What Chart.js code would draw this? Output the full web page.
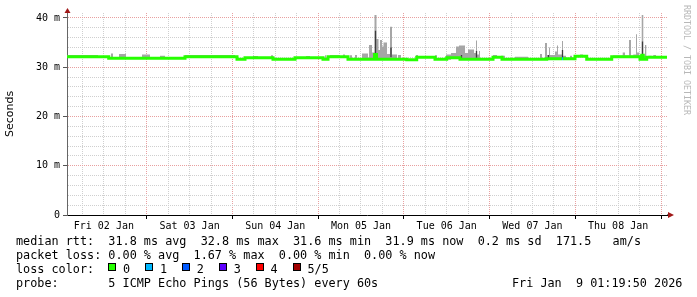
<!DOCTYPE html>
<html lang="en">
<head>
    <meta charset="UTF-8">
    <title>SmokePing latency</title>
    <style>
        body { margin: 0; background: #fff; }
        #wrap { position: relative; width: 697px; height: 297px; }
        #legend { position: absolute; left: 16px; top: 234px; font: 11.8px 'DejaVu Sans Mono', monospace; line-height: 14px; color: #000; white-space: pre; }
        #legend div { height: 14px; }
        .box { position: absolute; top: 263px; width: 8px; height: 8px; box-sizing: border-box; border: 1px solid #000; }
        .key { position: absolute; top: 262px; font: 11.8px 'DejaVu Sans Mono', monospace; line-height: 14px; }
        #probeTime { position: absolute; left: 512px; top: 276px; font: 11.8px 'DejaVu Sans Mono', monospace; line-height: 14px; white-space: pre; }
        #credit { position: absolute; left: 682px; top: 5px; writing-mode: vertical-rl; font: 8.3px 'DejaVu Sans Mono', monospace; line-height: 10px; color: #b8b8b8; white-space: pre; }
    </style>
</head>
<body>
<div id="wrap">
    <canvas id="myChart" width="697" height="297"></canvas>
    <div id="legend"></div>
    <div id="probeTime"></div>
    <div id="credit">RRDTOOL / TOBI OETIKER</div>
</div>

<script src="https://cdn.jsdelivr.net/npm/chart.js"></script>
<script>
// hours since Fri 02 Jan 00:00
const dayLabels = ['Fri 02 Jan', 'Sat 03 Jan', 'Sun 04 Jan', 'Mon 05 Jan', 'Tue 06 Jan', 'Wed 07 Jan', 'Thu 08 Jan'];

// median rtt (ms), step values starting at each hour
const medianHours = [1.68, 13.36, 34.72, 49.28, 51.52, 59.36, 65.52, 73.36, 74.76, 80.36, 87.78, 88.34, 96.8, 99.6, 104.72, 108.0, 111.72, 120.96, 123.48, 136.0, 140.28, 140.56, 143.92, 147.2, 154.2, 162.12, 162.6, 163.04, 164.0, 169.68];
const medianMs = [32.1, 31.8, 32.1, 31.6, 31.9, 31.6, 31.9, 31.6, 32.1, 31.6, 32.6, 31.6, 31.5, 32.0, 31.6, 31.9, 31.6, 32.0, 31.6, 31.7, 31.7, 31.7, 32.2, 31.6, 32.1, 31.6, 32.4, 31.6, 32.0, 32.0];

// lost pings on the median line
const lossStart = [140.28];
const lossEnd = [140.56];
const lossCount = [1];
const lossColors = ['#26ff00', '#00b8ff', '#0059ff', '#5e00ff', '#ff0000', '#a10000'];
const lossKeys = ['0', '1', '2', '3', '4', '5/5'];

// smoke (spread of the pings), low / high in ms, step values
const smokeHours = [1.68, 10.36, 14.0, 14.56, 16.24, 18.2, 22.68, 24.92, 27.72, 29.12, 34.72, 48.72, 53.76, 55.16, 58.8, 59.36, 68.6, 69.72, 73.92, 74.2, 75.32, 78.12, 78.96, 79.52, 80.92, 81.48, 82.32, 82.88, 84.28, 85.96, 86.24, 87.08, 87.78, 88.34, 88.9, 89.32, 89.88, 90.3, 91.28, 92.12, 92.68, 94.08, 94.36, 95.2, 99.4, 99.96, 104.72, 105.28, 107.8, 109.2, 110.6, 111.44, 113.12, 113.96, 115.64, 116.2, 116.48, 117.04, 117.32, 120.96, 122.08, 123.2, 124.32, 127.12, 130.76, 134.12, 134.68, 135.52, 136.08, 136.64, 136.92, 138.32, 138.88, 139.16, 140.28, 140.56, 141.4, 142.52, 143.08, 145.32, 146.16, 154.56, 157.28, 157.92, 159.04, 159.6, 160.24, 161.0, 161.28, 161.92, 162.6, 163.04, 163.52, 163.88, 164.44, 165.4, 165.84, 166.6];
const smokeLow = [32.0, 32.0, 31.7, 31.7, 31.7, 31.7, 31.7, 31.7, 31.7, 31.7, 32.0, 32.0, 31.8, 31.8, 31.8, 31.5, 31.8, 31.8, 31.5, 31.5, 32.0, 32.0, 32.0, 32.0, 31.5, 31.5, 31.5, 31.5, 31.5, 31.5, 31.5, 31.5, 31.5, 31.5, 31.5, 31.5, 31.5, 31.5, 31.5, 31.5, 31.5, 31.5, 31.5, 31.5, 31.8, 31.9, 31.5, 31.5, 31.5, 31.8, 31.8, 31.7, 31.5, 31.5, 31.5, 31.5, 31.5, 31.5, 31.5, 31.9, 31.9, 31.5, 31.5, 31.5, 31.5, 31.5, 31.5, 31.5, 31.6, 31.6, 31.6, 31.6, 31.6, 31.6, 31.6, 31.6, 31.6, 31.6, 31.6, 32.1, 32.1, 32.0, 32.0, 32.0, 32.0, 32.0, 32.0, 32.0, 32.0, 32.0, 32.1, 31.5, 31.5, 31.5, 31.9, 31.9, 31.9, 31.9];
const smokeHigh = [32.5, 32.0, 32.8, 31.7, 32.7, 31.7, 32.6, 31.7, 32.3, 31.7, 32.45, 32.0, 32.25, 31.8, 32.4, 31.5, 32.25, 31.8, 32.4, 31.5, 32.45, 32.0, 32.6, 32.0, 32.4, 31.5, 32.5, 31.5, 32.8, 31.5, 34.5, 33.0, 40.6, 35.7, 33.5, 35.5, 34.2, 35.0, 32.7, 38.2, 32.6, 31.5, 32.5, 31.5, 32.5, 31.9, 32.4, 31.5, 32.6, 32.9, 34.2, 34.4, 32.9, 33.6, 32.9, 35.4, 32.6, 33.3, 31.5, 32.5, 31.9, 32.3, 31.5, 32.1, 31.5, 32.7, 31.5, 34.9, 32.5, 34.0, 32.5, 33.2, 34.4, 32.6, 35.3, 32.3, 31.6, 32.3, 31.6, 32.6, 32.1, 32.35, 33.0, 32.35, 35.5, 32.35, 32.6, 36.7, 33.0, 32.3, 40.6, 32.3, 34.5, 31.5, 32.3, 31.9, 32.5, 31.9];

// dense part of the smoke (darker columns)
const darkHours = [88.06, 92.4, 112.14, 116.34, 136.5, 140.42, 162.82];
const darkLow = [32.5, 32.0, 31.6, 31.9, 31.5, 31.5, 32.1];
const darkHigh = [37.4, 34.0, 32.5, 33.3, 32.5, 33.5, 35.2];

// legend statistics
const rttNames = ['avg', 'max', 'min', 'now', 'sd'];
const rttValues = [31.8, 32.8, 31.6, 31.9, 0.2];
const amPerSecond = 171.5;
const lossNames = ['avg', 'max', 'min', 'now'];
const lossValues = [0.00, 1.67, 0.00, 0.00];
const probeText = '5 ICMP Echo Pings (56 Bytes) every 60s';
const graphTime = 'Fri Jan  9 01:19:50 2026';

const startHour = 1.68;
const endHour = 169.68;
const yMax = 41;

// legend text
const legend = document.getElementById('legend');
const lines = [
    'median rtt:  ' + rttValues.map((v, i) => v.toFixed(1) + ' ms ' + rttNames[i]).join('  ') + '  ' + amPerSecond.toFixed(1) + '   am/s',
    'packet loss: ' + lossValues.map((v, i) => v.toFixed(2) + ' % ' + lossNames[i]).join('  '),
    'loss color:',
    'probe:       ' + probeText
];
lines.forEach(t => {
    const d = document.createElement('div');
    d.textContent = t;
    legend.appendChild(d);
});
document.getElementById('probeTime').textContent = graphTime;
const wrap = document.getElementById('wrap');
lossKeys.forEach((k, i) => {
    const b = document.createElement('span');
    b.className = 'box';
    b.style.left = (108 + i * 36.9) + 'px';
    b.style.background = lossColors[i];
    wrap.appendChild(b);
    const t = document.createElement('span');
    t.className = 'key';
    t.style.left = (123 + i * 36.9) + 'px';
    t.textContent = k;
    wrap.appendChild(t);
});

function lossColorAt(h) {
    for (let i = 0; i < lossStart.length; i++) {
        if (h >= lossStart[i] && h < lossEnd[i]) return lossColors[lossCount[i]];
    }
    return lossColors[0];
}

const arrows = {
    id: 'arrows',
    afterDraw(chart) {
        const c = chart.ctx, a = chart.chartArea;
        c.save();
        c.fillStyle = '#000';
        c.fillRect(a.right, a.bottom - 0.5, 2, 1);
        c.fillStyle = '#a01818';
        c.beginPath();
        c.moveTo(a.left - 2.5, a.top);
        c.lineTo(a.left + 3.5, a.top);
        c.lineTo(a.left + 0.5, a.top - 5);
        c.closePath();
        c.fill();
        c.beginPath();
        c.moveTo(a.right + 1, a.bottom - 3);
        c.lineTo(a.right + 1, a.bottom + 3);
        c.lineTo(a.right + 7, a.bottom);
        c.closePath();
        c.fill();
        c.restore();
    }
};

Chart.defaults.font.family = "'DejaVu Sans Mono', monospace";
Chart.defaults.font.size = 10;
Chart.defaults.color = '#000';

const ctx = document.getElementById('myChart');
new Chart(ctx, {
    type: 'line',
    data: {
        datasets: [
            {
                label: 'median',
                data: medianHours.map((h, i) => ({ x: h, y: medianMs[i] })),
                stepped: true,
                borderColor: lossColors[0],
                borderWidth: 3,
                borderCapStyle: 'butt',
                pointRadius: 0,
                fill: false,
                order: 0,
                segment: { borderColor: c => lossColorAt(c.p0.parsed.x) }
            },
            {
                label: 'dense',
                data: darkHours.flatMap((h, i) => [{ x: h, y: darkLow[i] }, { x: h, y: darkHigh[i] }, { x: h, y: null }]),
                borderColor: '#3c3c3c',
                borderWidth: 1.3,
                pointRadius: 0,
                spanGaps: false,
                fill: false,
                order: 1
            },
            {
                label: 'smoke',
                data: smokeHours.map((h, i) => ({ x: h, y: smokeHigh[i] })),
                stepped: true,
                borderColor: 'rgba(0,0,0,0)',
                borderWidth: 0,
                backgroundColor: '#a6a6a6',
                pointRadius: 0,
                fill: '+1',
                order: 2
            },
            {
                label: 'smoke low',
                data: smokeHours.map((h, i) => ({ x: h, y: smokeLow[i] })),
                stepped: true,
                borderColor: 'rgba(0,0,0,0)',
                borderWidth: 0,
                pointRadius: 0,
                fill: false,
                order: 3
            }
        ]
    },
    options: {
        responsive: false,
        animation: false,
        events: [],
        devicePixelRatio: 1,
        layout: { padding: { left: 0, right: 30, top: 13, bottom: 0 } },
        plugins: { legend: { display: false }, tooltip: { enabled: false } },
        scales: {
            x: {
                type: 'linear',
                min: startHour,
                max: endHour,
                offset: false,
                afterFit: s => { s.height = 82; },
                afterBuildTicks: s => {
                    const t = [];
                    for (let h = 6; h < endHour; h += 6) t.push({ value: h });
                    s.ticks = t;
                },
                ticks: {
                    autoSkip: false,
                    maxRotation: 0,
                    minRotation: 0,
                    padding: 1,
                    font: { size: 10 },
                    callback: v => (v % 24 === 12 ? dayLabels[Math.floor(v / 24)] : '')
                },
                grid: {
                    offset: false,
                    color: c => (c.tick && c.tick.value % 24 === 0 ? '#e8a0a0' : '#cfcfcf'),
                    tickColor: c => (c.tick && c.tick.value % 24 === 0 ? '#000' : 'rgba(0,0,0,0)'),
                    tickLength: 4
                },
                border: { color: '#000', width: 1, dash: [1, 1] }
            },
            y: {
                min: 0,
                max: yMax,
                afterFit: s => { s.width = 67; },
                afterBuildTicks: s => {
                    const t = [];
                    for (let v = 0; v < yMax; v += 2) t.push({ value: v });
                    s.ticks = t;
                },
                ticks: {
                    autoSkip: false,
                    padding: 3,
                    font: { size: 10 },
                    callback: v => (v % 10 === 0 ? (v === 0 ? '0' : v + ' m') : '')
                },
                grid: {
                    color: c => (c.tick && c.tick.value % 10 === 0 ? '#e8a0a0' : '#cfcfcf'),
                    tickColor: c => (c.tick && c.tick.value % 10 === 0 ? '#555' : 'rgba(0,0,0,0)'),
                    tickLength: 4
                },
                border: { color: '#666', width: 1, dash: [1, 1] },
                title: {
                    display: true,
                    text: 'Seconds',
                    font: { family: "'DejaVu Sans', sans-serif", size: 11 },
                    padding: { top: 4, bottom: 0 }
                }
            }
        }
    },
    plugins: [arrows]
});
</script>
</body>
</html>
